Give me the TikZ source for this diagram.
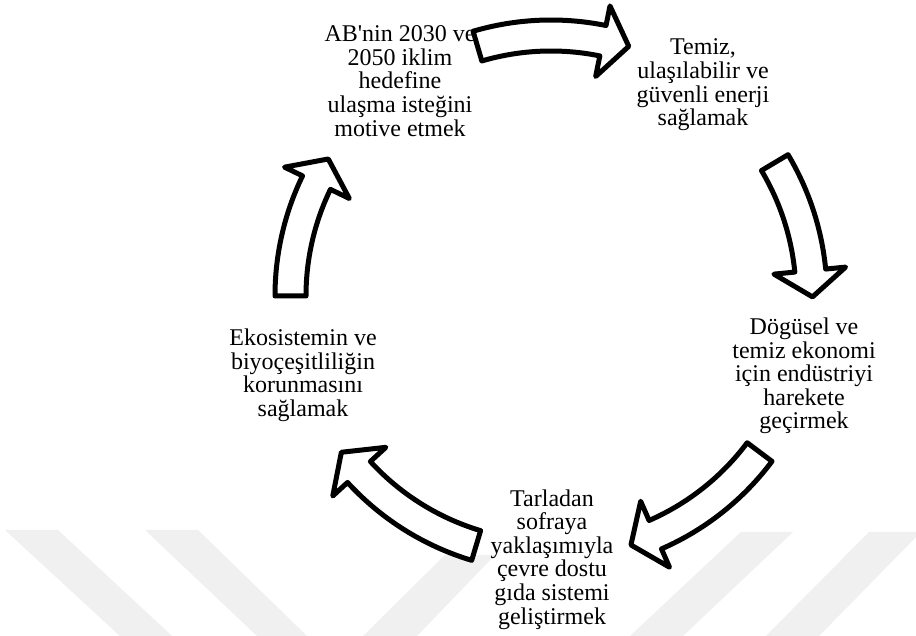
\documentclass[tikz,border=0pt]{standalone}
\usepackage{fontspec}
\setmainfont{Liberation Serif}
\definecolor{wmgray}{HTML}{F0F0F0}
\newcommand\cyclearrow[2]{%
  \pgfmathsetmacro\hA{#2+5.8}%
  \draw[arr, shift={(551,340)}] (#1:245pt) -- (#1:276pt)
    arc[start angle=#1, end angle=\hA, radius=276pt]
    -- (\hA:296pt) -- (#2:261.5pt) -- (\hA:224pt) -- (\hA:245pt)
    arc[start angle=\hA, end angle=#1, radius=245pt] -- cycle;}
\begin{document}
\begin{tikzpicture}[x=1pt,y=1pt,
  arr/.style={draw=black, fill=white, line width=5pt, line join=round},
  lbl/.style={align=center, inner sep=0pt, font=\fontsize{24}{23.6}\selectfont},
  wm/.style={fill=wmgray, draw=none}]
\useasboundingbox (0,0) rectangle (916,636);
\clip (0,0) rectangle (916,636);
\fill[white] (0,0) rectangle (916,636);
% watermark stripes
\fill[wm] (5,106) -- (58,106) -- (172,0) -- (120,0) -- cycle;
\fill[wm] (145,106) -- (198,106) -- (307,0) -- (257,0) -- cycle;
\fill[wm] (445,81) -- (495,81) -- (417,0) -- (363,0) -- cycle;
\fill[wm] (741,104) -- (793,104) -- (683,0) -- (630,0) -- cycle;
\fill[wm] (869,104) -- (921,104) -- (819,0) -- (766,0) -- cycle;
% arrows
\cyclearrow{106.4}{72.7}
\cyclearrow{30.8}{-0.2}
\cyclearrow{-36.8}{-72.2}
\cyclearrow{-106.7}{-143.3}
\cyclearrow{180}{148.4}
% labels
\node[lbl] (ab) at (400,554.9) {AB\textquotesingle nin 2030 ve\\2050 iklim\\hedefine\\ulaşma isteğini\\motive etmek};
\node[lbl] (enerji) at (703,551) {Temiz,\\ulaşılabilir ve\\güvenli enerji\\sağlamak};
\node[lbl] (endustri) at (804,260) {Dögüsel ve\\temiz ekonomi\\için endüstriyi\\harekete\\geçirmek};
\node[lbl] (gida) at (552,76.6) {Tarladan\\sofraya\\yaklaşımıyla\\çevre dostu\\gıda sistemi\\geliştirmek};
\node[lbl] (eko) at (303,260.8) {Ekosistemin ve\\biyoçeşitliliğin\\korunmasını\\sağlamak};
\end{tikzpicture}
\end{document}
